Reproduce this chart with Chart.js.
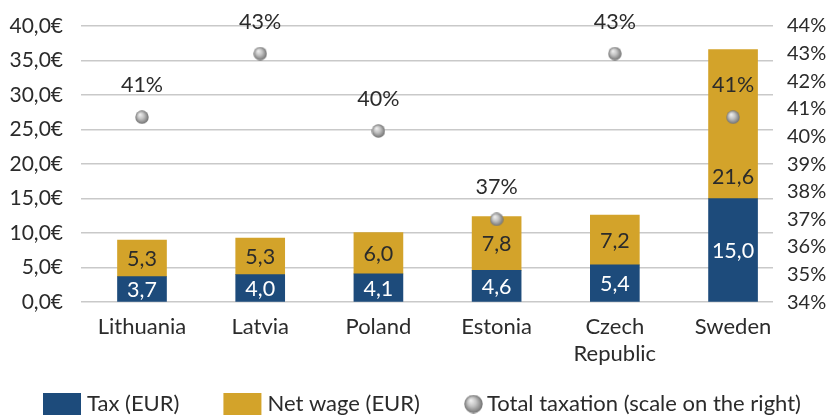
<!DOCTYPE html>
<html>
<head>
<meta charset="utf-8">
<script src="https://cdn.jsdelivr.net/npm/chart.js@4/dist/chart.umd.min.js"></script>
<style>
  html, body { margin: 0; padding: 0; background: #fff; }
  #wrap { width: 828px; height: 418px; }
</style>
</head>
<body>
<div id="wrap"><canvas id="taxChart" width="828" height="418"></canvas></div>
<script>
/* Labour taxation — stacked tax / net wage bars with total taxation dots */

const categories = ['Lithuania', 'Latvia', 'Poland', 'Estonia', 'Czech Republic', 'Sweden'];
const taxEur = [3.7, 4.0, 4.1, 4.6, 5.4, 15.0];
const netWageEur = [5.3, 5.3, 6.0, 7.8, 7.2, 21.6];
const totalTaxation = [40.7, 43.0, 40.2, 37.0, 43.0, 40.7];

const eurTicks = { min: 0, max: 40, step: 5 };
const pctTicks = { min: 34, max: 44, step: 1 };

const TAX_COLOR = '#1d4b7b';
const NET_COLOR = '#d3a32a';
const TEXT_COLOR = '#2b2b2b';
const FONT = 'Lato';

// little grey ball used for the dots
function sphere(d) {
    const c = document.createElement('canvas');
    c.width = d; c.height = d;
    const g = c.getContext('2d');
    const r = d / 2;
    const grad = g.createRadialGradient(r * 0.7, r * 0.6, 0, r, r, r);
    grad.addColorStop(0, '#f4f4f4');
    grad.addColorStop(0.45, '#c4c4c4');
    grad.addColorStop(1, '#6e6e6e');
    g.fillStyle = grad;
    g.beginPath();
    g.arc(r, r, r - 0.3, 0, Math.PI * 2);
    g.fill();
    return c;
}
const dotImg = sphere(14);
const legendDot = sphere(19);

const comma = (v) => v.toFixed(1).replace('.', ',');

// chart.js reserves tick padding on both sides of a y axis; pin the width instead
const fixAxis = (w) => (axis) => {
    axis.width = w;
    axis.paddingTop = 0;
    axis.paddingBottom = 0;
};

const valueLabels = {
    id: 'valueLabels',
    afterDatasetsDraw(chart) {
        const ctx = chart.ctx;
        const dots = chart.getDatasetMeta(2).data;
        ctx.save();
        ctx.font = '21.5px ' + FONT;
        ctx.textAlign = 'center';
        ctx.textBaseline = 'middle';
        chart.data.datasets.forEach((ds, di) => {
            const meta = chart.getDatasetMeta(di);
            meta.data.forEach((el, i) => {
                if (ds.type === 'scatter') {
                    ctx.fillStyle = TEXT_COLOR;
                    ctx.fillText(Math.round(totalTaxation[i]) + '%', el.x, el.y - 32);
                    return;
                }
                let y = (el.y + el.base) / 2 + 1;
                // push the label towards the base when it would sit on a dot
                if (Math.abs(y - dots[i].y) < 25) y = el.base - 22;
                ctx.fillStyle = ds.labelColor;
                ctx.fillText(comma(ds.data[i].y), el.x, y);
            });
        });
        ctx.restore();
    }
};

const bottomLegend = {
    id: 'bottomLegend',
    afterDraw(chart) {
        const ctx = chart.ctx;
        const y = 404;
        let x = 43;
        ctx.save();
        ctx.font = '22px ' + FONT;
        ctx.textBaseline = 'middle';
        chart.data.datasets.forEach((ds) => {
            if (ds.type === 'scatter') {
                ctx.drawImage(legendDot, x, y - 9.5);
                x += 19 + 4;
            } else {
                ctx.fillStyle = ds.backgroundColor;
                ctx.fillRect(x, y - 11, 38, 22);
                x += 38 + 6;
            }
            ctx.fillStyle = TEXT_COLOR;
            ctx.fillText(ds.label, x, y);
            x += ctx.measureText(ds.label).width + 44;
        });
        ctx.restore();
    }
};

new Chart(document.getElementById('taxChart'), {
    data: {
        datasets: [
            {
                type: 'bar',
                label: 'Tax (EUR)',
                data: taxEur.map((v, i) => ({ x: i, y: v })),
                backgroundColor: TAX_COLOR,
                labelColor: '#ffffff',
                barThickness: 49,
                stack: 'wage',
                order: 2,
            },
            {
                type: 'bar',
                label: 'Net wage (EUR)',
                data: netWageEur.map((v, i) => ({ x: i, y: v })),
                backgroundColor: NET_COLOR,
                labelColor: TEXT_COLOR,
                barThickness: 49,
                stack: 'wage',
                order: 2,
            },
            {
                type: 'scatter',
                label: 'Total taxation (scale on the right)',
                data: totalTaxation.map((v, i) => ({ x: i, y: v })),
                yAxisID: 'y1',
                pointStyle: dotImg,
                order: 1,
            },
        ],
    },
    options: {
        responsive: false,
        animation: false,
        layout: { padding: { top: 26, left: 8, right: 0, bottom: 47 } },
        plugins: {
            legend: { display: false },
            tooltip: { enabled: false },
        },
        scales: {
            x: {
                type: 'linear',
                min: -0.516,
                max: 5.338,
                offset: false,
                stacked: true,
                grid: { display: false, offset: false },
                border: { display: false },
                afterBuildTicks: (axis) => { axis.ticks = categories.map((_, i) => ({ value: i })); },
                afterFit: (axis) => { axis.paddingLeft = 0; axis.paddingRight = 0; },
                ticks: {
                    padding: 4,
                    color: TEXT_COLOR,
                    font: { family: FONT, size: 22 },
                    maxRotation: 0,
                    autoSkip: false,
                    callback: (v) => {
                        const name = categories[v];
                        return name && name.indexOf(' ') > 0 ? name.split(' ') : name;
                    },
                },
            },
            y: {
                position: 'left',
                stacked: true,
                min: eurTicks.min,
                max: eurTicks.max,
                grid: { color: '#c9c9c9', lineWidth: 1.5, drawTicks: false },
                border: { display: false },
                afterFit: fixAxis(73),
                ticks: {
                    stepSize: eurTicks.step,
                    padding: 18,
                    color: TEXT_COLOR,
                    font: { family: FONT, size: 21 },
                    callback: (v) => comma(v) + '€',
                },
            },
            y1: {
                position: 'right',
                min: pctTicks.min,
                max: pctTicks.max,
                grid: { display: false, drawTicks: false },
                border: { display: false },
                afterFit: fixAxis(55),
                ticks: {
                    stepSize: pctTicks.step,
                    autoSkip: false,
                    padding: 14,
                    color: TEXT_COLOR,
                    font: { family: FONT, size: 20 },
                    callback: (v) => v + '%',
                },
            },
        },
    },
    plugins: [valueLabels, bottomLegend],
});
</script>
</body>
</html>
